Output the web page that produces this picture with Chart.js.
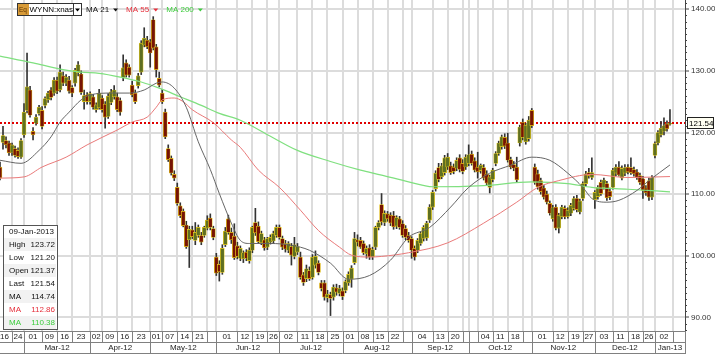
<!DOCTYPE html>
<html>
<head>
<meta charset="utf-8">
<script src="https://cdn.jsdelivr.net/npm/chart.js@4.4.0/dist/chart.umd.min.js"></script>
<style>
  html, body { margin: 0; padding: 0; background: #fff; }
</style>
</head>
<body>
<canvas id="chart" width="715" height="354"></canvas>
<script>
// WYNN:xnas daily candles, 16-Feb-2012 .. 09-Jan-2013
const firstDay = '2012-02-16';
const lastAxisDay = '2013-01-16';
const holidays = ['2012-02-20', '2012-04-06', '2012-05-28', '2012-07-04', '2012-09-03',
  '2012-10-29', '2012-10-30', '2012-11-22', '2012-12-25', '2013-01-01'];

const opens = [
  113.5, 114.4, 118.4, 118.7, 118.3, 116.8, 117.4, 117.1, 116.0, 119.6,
  123.6, 126.9, 120.2, 121.5, 123.1, 123.6, 124.4, 125.3, 126.9, 126.4,
  128.5, 126.9, 129.2, 128.0, 128.5, 127.3, 128.0, 129.7, 129.5, 125.0,
  126.1, 125.0, 125.8, 123.7, 124.0, 125.6, 124.6, 122.6, 124.9, 125.8,
  125.8, 125.2, 128.9, 131.3, 130.6, 127.7, 126.4, 127.6, 129.8, 134.2,
  135.0, 134.7, 138.3, 133.9, 128.8, 126.4, 123.3, 117.4, 115.8, 113.2,
  111.1, 108.1, 107.2, 105.0, 102.6, 104.2, 102.5, 103.3, 103.3, 103.3,
  104.5, 106.1, 104.4, 99.8, 98.6, 97.3, 101.8, 106.0, 103.8, 103.2,
  101.6, 99.6, 99.5, 100.6, 99.2, 100.9, 105.4, 104.8, 102.1, 102.6,
  101.4, 102.2, 102.4, 103.3, 104.6, 102.8, 102.0, 100.9, 101.5, 99.9,
  100.6, 99.8, 96.9, 96.3, 97.6, 96.5, 98.5, 98.8, 95.6, 95.6,
  93.2, 93.7, 93.3, 94.8, 93.9, 94.3, 94.4, 95.6, 96.2, 98.9,
  102.6, 102.5, 102.0, 100.3, 101.3, 99.8, 101.4, 104.6, 108.3, 105.4,
  106.8, 106.6, 106.5, 104.8, 106.0, 105.2, 104.4, 103.3, 102.8, 101.2,
  100.9, 102.0, 102.8, 102.9, 105.8, 107.9, 110.9, 114.3, 112.8, 113.5,
  114.4, 114.6, 114.4, 114.2, 115.9, 115.0, 114.4, 115.0, 116.5, 115.4,
  114.4, 113.8, 114.3, 113.3, 111.1, 112.4, 115.0, 116.6, 117.7, 119.2,
  118.3, 115.6, 114.8, 114.4, 118.3, 121.7, 118.5, 119.0, 123.6, 114.4,
  113.3, 112.2, 111.0, 110.0, 108.5, 106.0, 107.9, 104.5, 106.3, 107.7,
  106.4, 106.9, 107.7, 109.3, 107.1, 109.3, 111.7, 113.5, 112.7, 109.1,
  109.6, 111.9, 111.1, 111.7, 110.5, 111.1, 113.4, 114.4, 112.6, 113.4,
  114.4, 114.3, 114.0, 113.6, 113.0, 112.5, 111.0, 112.2, 109.5, 116.3,
  118.3, 119.6, 120.2, 121.4, 121.37
];
const highs = [
  115.2, 115.2, 121.0, 119.3, 118.6, 118.3, 117.8, 117.5, 119.0, 124.7,
  132.9, 127.5, 120.8, 122.9, 124.4, 124.2, 125.8, 126.7, 127.3, 128.9,
  129.0, 131.0, 129.8, 129.4, 129.1, 127.6, 130.4, 131.5, 130.0, 126.9,
  126.5, 126.6, 126.2, 124.8, 127.0, 126.0, 125.0, 126.3, 127.0, 127.6,
  126.4, 125.6, 132.6, 131.8, 131.0, 128.3, 126.9, 129.6, 134.9, 137.0,
  135.6, 135.1, 138.8, 134.3, 129.8, 127.0, 123.8, 118.0, 116.2, 113.8,
  111.8, 108.6, 107.6, 105.6, 104.8, 104.8, 105.4, 105.0, 103.8, 104.8,
  106.5, 106.8, 104.8, 100.4, 99.2, 101.8, 104.6, 106.6, 104.5, 105.2,
  102.2, 101.6, 100.8, 101.0, 101.3, 104.8, 107.7, 105.5, 104.0, 103.0,
  103.0, 103.4, 104.0, 105.0, 105.0, 103.2, 102.5, 102.3, 102.0, 103.0,
  102.0, 100.6, 97.3, 98.5, 98.2, 100.2, 100.8, 99.2, 96.0, 96.0,
  94.4, 94.1, 95.3, 95.4, 95.2, 94.8, 96.1, 97.4, 98.4, 103.8,
  103.4, 103.0, 102.4, 101.6, 101.8, 101.4, 104.8, 105.7, 110.1, 107.3,
  107.2, 107.0, 107.2, 106.5, 106.4, 105.7, 104.9, 103.8, 103.1, 101.6,
  102.8, 103.8, 104.9, 105.6, 108.3, 110.6, 113.8, 115.0, 115.0, 116.3,
  116.6, 115.2, 114.9, 115.9, 116.4, 115.6, 116.4, 118.0, 117.0, 115.9,
  116.8, 114.9, 114.8, 113.8, 113.1, 114.2, 116.9, 118.6, 119.6, 119.8,
  119.9, 116.0, 115.3, 116.0, 121.2, 122.2, 121.5, 122.6, 123.9, 114.9,
  113.9, 112.6, 111.4, 110.5, 108.9, 108.2, 108.3, 106.9, 108.2, 108.1,
  107.8, 108.5, 109.6, 109.8, 109.2, 112.0, 113.7, 114.2, 115.9, 110.6,
  111.4, 112.3, 112.6, 112.1, 111.0, 114.2, 114.8, 115.3, 114.6, 114.8,
  114.8, 115.9, 114.4, 114.0, 113.4, 112.9, 111.4, 112.6, 113.0, 118.5,
  120.3, 121.8, 122.4, 121.9, 123.72
];
const lows = [
  113.0, 112.3, 117.3, 117.5, 116.3, 116.3, 116.0, 115.8, 115.8, 119.2,
  123.2, 122.5, 118.8, 121.2, 122.8, 120.6, 124.0, 124.9, 125.3, 126.0,
  126.3, 126.6, 127.6, 127.6, 126.4, 125.8, 127.5, 129.2, 126.2, 123.8,
  124.6, 124.6, 123.8, 123.3, 123.8, 123.3, 120.7, 122.3, 124.5, 125.4,
  123.4, 122.8, 128.4, 129.0, 129.0, 125.8, 124.7, 127.2, 129.4, 133.9,
  133.6, 130.6, 133.4, 129.0, 127.4, 124.7, 119.0, 115.3, 113.1, 112.2,
  108.2, 106.2, 104.7, 101.2, 98.1, 102.8, 101.8, 103.0, 101.8, 103.0,
  104.2, 104.2, 102.6, 96.8, 95.9, 97.0, 101.5, 103.5, 102.0, 99.4,
  99.5, 99.2, 98.9, 99.2, 98.8, 100.5, 103.3, 102.0, 101.8, 100.9,
  101.0, 101.9, 102.0, 103.0, 102.7, 101.0, 100.6, 100.5, 98.5, 99.5,
  100.2, 96.2, 95.2, 95.8, 96.0, 96.2, 98.0, 96.9, 94.3, 92.8,
  92.5, 90.3, 92.8, 93.6, 93.5, 92.9, 94.0, 95.2, 94.9, 98.6,
  101.6, 101.2, 100.2, 99.6, 99.4, 99.4, 101.0, 104.2, 105.0, 104.9,
  105.6, 104.9, 104.3, 104.4, 104.3, 103.0, 102.6, 102.2, 99.6, 99.3,
  100.5, 101.7, 102.4, 102.5, 105.4, 107.5, 110.5, 112.0, 112.5, 113.1,
  114.0, 113.2, 113.3, 113.8, 113.6, 113.3, 114.0, 114.6, 114.7, 113.6,
  112.6, 113.4, 112.3, 111.5, 110.2, 112.0, 114.6, 116.3, 117.3, 117.4,
  115.2, 114.1, 113.8, 112.0, 117.8, 118.8, 118.1, 118.6, 120.8, 111.6,
  110.8, 110.0, 109.2, 108.4, 106.6, 105.6, 104.2, 103.7, 106.0, 106.0,
  106.1, 106.5, 107.4, 107.1, 106.8, 109.0, 111.3, 112.6, 112.4, 107.7,
  109.2, 109.8, 110.8, 109.0, 109.1, 110.8, 113.0, 112.9, 112.3, 113.0,
  113.3, 113.2, 112.9, 112.4, 111.6, 109.3, 109.8, 109.0, 109.1, 115.9,
  118.0, 119.3, 119.6, 120.2, 121.20
];
const closes = [
  114.6, 112.6, 119.5, 118.0, 116.7, 118.0, 116.3, 116.1, 118.7, 123.3,
  127.4, 122.8, 119.6, 122.5, 124.1, 121.0, 125.5, 126.4, 125.7, 128.5,
  126.7, 129.8, 128.0, 129.0, 126.7, 126.4, 130.1, 131.0, 126.5, 126.0,
  125.0, 126.3, 124.1, 124.5, 126.4, 123.7, 122.5, 125.9, 126.6, 126.9,
  123.7, 123.3, 130.5, 129.3, 129.3, 126.1, 125.0, 129.2, 134.5, 135.3,
  133.9, 132.9, 133.7, 130.2, 127.7, 125.0, 119.3, 115.6, 113.4, 112.6,
  108.5, 106.5, 104.9, 101.5, 104.3, 103.1, 103.8, 104.6, 102.2, 104.6,
  105.8, 104.6, 103.0, 97.2, 97.4, 101.2, 104.0, 103.8, 102.6, 99.7,
  99.9, 101.2, 100.5, 99.6, 100.9, 104.6, 103.7, 102.3, 103.6, 101.3,
  102.8, 103.0, 103.6, 104.6, 103.0, 101.4, 101.1, 102.0, 100.1, 101.8,
  101.5, 96.5, 95.7, 97.9, 96.3, 99.8, 99.9, 97.3, 94.7, 93.3,
  93.8, 93.1, 94.9, 94.1, 94.7, 93.4, 95.8, 97.0, 98.0, 102.8,
  102.2, 101.4, 100.5, 101.2, 99.8, 101.0, 104.6, 105.4, 105.5, 106.9,
  106.0, 105.3, 104.7, 106.2, 104.6, 103.3, 103.0, 102.5, 100.9, 99.8,
  102.5, 103.6, 104.6, 105.3, 107.9, 110.3, 113.4, 112.4, 114.6, 115.9,
  116.0, 113.5, 113.7, 115.5, 114.0, 113.7, 116.0, 116.4, 115.0, 113.9,
  113.6, 114.7, 112.6, 111.8, 112.8, 113.9, 116.6, 118.3, 119.3, 117.8,
  115.5, 114.4, 114.2, 112.3, 120.9, 119.2, 121.2, 122.0, 121.1, 111.9,
  111.2, 110.4, 109.5, 108.7, 106.9, 107.8, 104.5, 106.6, 107.9, 106.3,
  107.4, 108.2, 109.3, 107.5, 108.9, 111.7, 113.3, 113.0, 113.5, 110.3,
  111.1, 110.1, 112.3, 109.4, 109.6, 113.9, 114.4, 113.1, 114.2, 114.3,
  113.6, 113.5, 113.3, 112.7, 111.9, 110.6, 110.2, 109.5, 112.7, 118.2,
  120.0, 120.7, 121.1, 120.6, 121.54
];

// moving averages as [trading day index, value]
const ma21 = [[1, 115.5], [8, 115.0], [14, 117.1], [18, 119.3], [21, 121.7], [24, 123.3], [28, 125.3],
  [31, 126.1], [38, 126.4], [44, 126.4], [49, 126.9], [53, 128.0], [55, 128.2], [59, 127.2], [63, 124.1],
  [67, 118.5], [71, 114.0], [74, 110.1], [78, 105.3], [81, 102.5], [84, 102.0], [91, 102.0], [98, 101.7],
  [104, 100.9], [111, 98.8], [117, 96.2], [124, 96.8], [131, 99.3], [137, 103.0], [144, 104.6],
  [151, 107.9], [157, 111.1], [164, 113.4], [171, 114.7], [178, 116.0], [184, 115.5], [190, 113.4],
  [195, 111.1], [198, 109.3], [203, 108.7], [207, 109.0], [213, 110.6], [217, 112.2], [224, 114.74]];
const ma55 = [[1, 112.6], [9, 112.8], [15, 114.4], [23, 116.0], [30, 118.0], [40, 120.4], [45, 121.7],
  [50, 122.5], [53, 124.1], [55, 125.3], [59, 125.6], [62, 125.0], [65, 123.7], [72, 121.6], [78, 118.8],
  [81, 117.6], [87, 113.9], [94, 111.1], [101, 107.4], [107, 104.1], [114, 101.4], [118, 100.1],
  [124, 99.8], [128, 99.9], [137, 100.5], [150, 102.1], [162, 105.3], [173, 108.7], [180, 111.1],
  [187, 112.2], [198, 113.2], [210, 112.7], [224, 112.86]];
const ma200 = [[1, 132.4], [12, 131.3], [21, 130.3], [28, 129.8], [34, 129.6], [41, 129.0], [48, 128.2],
  [54, 127.2], [61, 125.8], [68, 124.4], [74, 123.1], [81, 122.0], [91, 119.4], [100, 117.1],
  [111, 115.3], [121, 113.9], [128, 113.1], [137, 112.0], [145, 111.2], [162, 111.4], [178, 112.0],
  [190, 111.7], [198, 111.1], [210, 110.8], [224, 110.38]];

const lastPrice = 121.54;
const yTicks = [90, 100, 110, 120, 130, 140];

const gridDates = ['2012-02-16', '2012-02-24', '2012-03-01', '2012-03-09', '2012-03-16', '2012-03-23',
  '2012-04-02', '2012-04-09', '2012-04-16', '2012-04-23', '2012-05-01', '2012-05-07', '2012-05-14',
  '2012-05-21', '2012-05-29', '2012-06-01', '2012-06-12', '2012-06-19', '2012-06-26', '2012-07-02',
  '2012-07-11', '2012-07-18', '2012-07-25', '2012-08-01', '2012-08-08', '2012-08-15', '2012-08-22',
  '2012-08-29', '2012-09-04', '2012-09-13', '2012-09-20', '2012-09-27', '2012-10-01', '2012-10-04',
  '2012-10-11', '2012-10-18', '2012-10-25', '2012-11-01', '2012-11-12', '2012-11-19', '2012-11-27',
  '2012-12-03', '2012-12-11', '2012-12-18', '2012-12-26', '2013-01-02', '2013-01-10'];
const gridLabels = ['16', '24', '01', '09', '16', '23', '02', '09', '16', '23', '01', '07', '14', '21', '',
  '01', '12', '19', '26', '02', '11', '18', '25', '01', '08', '15', '22', '', '04', '13', '20', '', '',
  '04', '11', '18', '', '01', '12', '19', '27', '03', '11', '18', '26', '02', ''];
const monthStarts = ['2012-03-01', '2012-04-02', '2012-05-01', '2012-06-01', '2012-07-02', '2012-08-01',
  '2012-09-04', '2012-10-01', '2012-11-01', '2012-12-03', '2013-01-02'];
const monthLabels = ['Mar-12', 'Apr-12', 'May-12', 'Jun-12', 'Jul-12', 'Aug-12', 'Sep-12', 'Oct-12',
  'Nov-12', 'Dec-12', 'Jan-13'];

const FONT = 'Arial, "Liberation Sans", sans-serif';
const BULL = '#5f6f22', BEAR = '#761404', EDGE = '#ecce1e';
const RED = '#e6303c', GREEN = '#3dcc3d';

function tradingDays(from, to, skip) {
  const out = [];
  const d = new Date(from + 'T00:00:00Z');
  const end = new Date(to + 'T00:00:00Z');
  while (d <= end) {
    const iso = d.toISOString().slice(0, 10);
    const wd = d.getUTCDay();
    if (wd !== 0 && wd !== 6 && !skip.includes(iso)) out.push(iso);
    d.setUTCDate(d.getUTCDate() + 1);
  }
  return out;
}
const days = tradingDays(firstDay, lastAxisDay, holidays);
const dayIdx = iso => days.indexOf(iso);
const MON = ['Jan', 'Feb', 'Mar', 'Apr', 'May', 'Jun', 'Jul', 'Aug', 'Sep', 'Oct', 'Nov', 'Dec'];
const fmtDate = iso => { const p = iso.split('-'); return p[2] + '-' + MON[+p[1] - 1] + '-' + p[0]; };

const wicks = opens.map((o, i) => ({ x: i, y: [lows[i], highs[i]] }));
const bodies = opens.map((o, i) => ({ x: i, y: [o, closes[i]] }));
const isUp = i => closes[i] >= opens[i];
const pts = arr => arr.map(([x, y]) => ({ x, y }));

function tri(ctx, x, y, color) {
  ctx.fillStyle = color;
  ctx.beginPath();
  ctx.moveTo(x, y); ctx.lineTo(x + 5, y); ctx.lineTo(x + 2.5, y + 3);
  ctx.closePath();
  ctx.fill();
}

const background = {
  id: 'background',
  beforeDraw(c) {
    const ctx = c.ctx;
    ctx.save();
    ctx.fillStyle = '#fff';
    ctx.fillRect(0, 0, c.width, c.height);
    ctx.restore();
  }
};

const lastLine = {
  id: 'lastLine',
  beforeDatasetsDraw(c) {
    const { ctx, chartArea: a, scales: { y } } = c;
    const py = Math.round(y.getPixelForValue(lastPrice));
    ctx.save();
    ctx.strokeStyle = '#e00000';
    ctx.lineWidth = 2;
    ctx.setLineDash([2, 2]);
    ctx.beginPath(); ctx.moveTo(a.left, py); ctx.lineTo(a.right, py); ctx.stroke();
    ctx.restore();
  }
};

const overlay = {
  id: 'overlay',
  afterDraw(c) {
    const { ctx, chartArea: a, scales: { x, y } } = c;
    ctx.save();

    // date band under the plot
    const top = a.bottom, mid = a.bottom + 11, bot = c.height;
    ctx.fillStyle = '#fff';
    ctx.fillRect(0, top, a.right, bot - top);
    ctx.strokeStyle = '#808080';
    ctx.lineWidth = 1;
    ctx.beginPath();
    ctx.moveTo(0, top + 0.5); ctx.lineTo(a.right, top + 0.5);
    ctx.moveTo(0, mid + 0.5); ctx.lineTo(a.right, mid + 0.5);
    ctx.moveTo(0, bot - 0.5); ctx.lineTo(a.right, bot - 0.5);
    ctx.moveTo(a.right + 0.5, top); ctx.lineTo(a.right + 0.5, bot);
    ctx.stroke();

    ctx.font = '8px ' + FONT;
    ctx.fillStyle = '#222';
    ctx.textAlign = 'center';
    ctx.textBaseline = 'middle';
    const g = gridDates.map(dayIdx);
    g.forEach((v, k) => {
      const x0 = x.getPixelForValue(v);
      const x1 = k + 1 < g.length ? x.getPixelForValue(g[k + 1]) : a.right;
      if (x0 > a.left && x0 < a.right) {
        ctx.beginPath();
        ctx.moveTo(Math.round(x0) + 0.5, top); ctx.lineTo(Math.round(x0) + 0.5, mid);
        ctx.stroke();
      }
      if (gridLabels[k]) ctx.fillText(gridLabels[k], (x0 + Math.min(x1, a.right)) / 2, top + 6);
    });
    const m = monthStarts.map(dayIdx);
    m.forEach((v, k) => {
      const x0 = x.getPixelForValue(v);
      const x1 = k + 1 < m.length ? x.getPixelForValue(m[k + 1]) : a.right;
      ctx.beginPath();
      ctx.moveTo(Math.round(x0) + 0.5, mid); ctx.lineTo(Math.round(x0) + 0.5, bot);
      ctx.stroke();
      ctx.fillText(monthLabels[k], (x0 + x1) / 2, mid + 6);
    });

    // minor ticks on the price axis
    ctx.strokeStyle = '#444';
    ctx.beginPath();
    for (let v = Math.ceil(y.min); v <= y.max; v++) {
      if (v % 10 === 0) continue;
      const py = Math.round(y.getPixelForValue(v)) + 0.5;
      ctx.moveTo(a.right, py); ctx.lineTo(a.right + 2, py);
    }
    ctx.stroke();

    // last price tag
    const py = Math.round(y.getPixelForValue(lastPrice));
    ctx.fillStyle = '#fffff2';
    ctx.fillRect(a.right + 2, py - 5, 27, 11);
    ctx.strokeStyle = '#222';
    ctx.strokeRect(a.right + 2.5, py - 5.5, 26, 11);
    ctx.fillStyle = '#000';
    ctx.textAlign = 'left';
    ctx.font = '8px ' + FONT;
    ctx.fillText(lastPrice.toFixed(2), a.right + 4, py + 0.5);

    // legend
    ctx.fillStyle = '#fff';
    ctx.fillRect(17, 3, 64, 13);
    ctx.strokeStyle = '#333';
    ctx.strokeRect(17.5, 3.5, 64, 12);
    ctx.beginPath(); ctx.moveTo(73.5, 4); ctx.lineTo(73.5, 15); ctx.stroke();
    ctx.fillStyle = '#d89b38';
    ctx.fillRect(18, 4, 11, 11);
    ctx.fillStyle = '#5c3300';
    ctx.font = '6.5px ' + FONT;
    ctx.fillText('Eq', 19, 10);
    ctx.font = '8px ' + FONT;
    ctx.fillStyle = '#000';
    ctx.fillText('WYNN:xnas', 29.5, 10);
    tri(ctx, 75, 8.5, '#000');
    let lx = 86;
    [['MA 21', '#111'], ['MA 55', RED], ['MA 200', GREEN]].forEach(([t, col]) => {
      ctx.fillStyle = col;
      ctx.fillText(t, lx, 10);
      const w = ctx.measureText(t).width;
      tri(ctx, lx + w + 4, 8.5, col);
      lx += w + 4 + 5 + 8;
    });

    // info box for the last bar
    const n = opens.length - 1;
    const rows = [
      [fmtDate(days[n]), '', '#111'],
      ['High', highs[n].toFixed(2), '#111'],
      ['Low', lows[n].toFixed(2), '#111'],
      ['Open', opens[n].toFixed(2), '#111'],
      ['Last', closes[n].toFixed(2), '#111'],
      ['MA', ma21[ma21.length - 1][1].toFixed(2), '#111'],
      ['MA', ma55[ma55.length - 1][1].toFixed(2), RED],
      ['MA', ma200[ma200.length - 1][1].toFixed(2), GREEN]
    ];
    const bx = 3, by = 225, bw = 54, rh = 13;
    ctx.fillStyle = '#fff';
    ctx.fillRect(bx, by, bw, rh * rows.length);
    rows.forEach((r, k) => {
      if (k % 2 === 1) {
        ctx.fillStyle = '#f2f2f2';
        ctx.fillRect(bx + 1, by + k * rh, bw - 2, rh);
      }
      ctx.fillStyle = r[2];
      ctx.textAlign = 'left';
      ctx.fillText(r[0], bx + 6, by + k * rh + 7);
      if (r[1]) {
        ctx.textAlign = 'right';
        ctx.fillText(r[1], bx + bw - 2, by + k * rh + 7);
      }
    });
    ctx.strokeStyle = '#555';
    ctx.strokeRect(bx + 0.5, by + 0.5, bw, rh * rows.length);

    ctx.restore();
  }
};

new Chart(document.getElementById('chart'), {
  type: 'bar',
  data: {
    datasets: [
      { type: 'line', label: 'MA 21', data: pts(ma21), borderColor: '#666', borderWidth: 1,
        pointRadius: 0, cubicInterpolationMode: 'monotone', order: 1 },
      { type: 'line', label: 'MA 55', data: pts(ma55), borderColor: '#ea7a7a', borderWidth: 1,
        pointRadius: 0, cubicInterpolationMode: 'monotone', order: 1 },
      { type: 'line', label: 'MA 200', data: pts(ma200), borderColor: '#7fe07f', borderWidth: 1.2,
        pointRadius: 0, cubicInterpolationMode: 'monotone', order: 1 },
      { label: 'body', data: bodies, barThickness: 4, grouped: false, minBarLength: 1,
        backgroundColor: ctx => isUp(ctx.dataIndex) ? BULL : BEAR,
        borderColor: EDGE, borderWidth: 0.7, borderSkipped: false, order: 2 },
      { label: 'wick', data: wicks, barThickness: 1, grouped: false,
        backgroundColor: '#333', borderWidth: 0, order: 3 }
    ]
  },
  options: {
    responsive: false,
    animation: false,
    devicePixelRatio: 1,
    layout: { padding: 0 },
    plugins: { legend: { display: false }, tooltip: { enabled: false } },
    scales: {
      x: {
        type: 'linear', min: 1, max: 229, offset: false,
        afterBuildTicks: s => {
          s.ticks = gridDates.map(dayIdx).filter(v => v >= s.min && v <= s.max).map(v => ({ value: v }));
        },
        ticks: { display: false },
        grid: { color: '#dcdcdc', lineWidth: 2, drawTicks: false, offset: false },
        border: { display: false },
        afterFit: s => { s.height = 23; s.paddingLeft = 0; s.paddingRight = 0; }
      },
      y: {
        position: 'right', min: 87.8, max: 141.5,
        afterBuildTicks: s => { s.ticks = yTicks.map(v => ({ value: v })); },
        ticks: { callback: v => v.toFixed(2), color: '#333', font: { size: 8, family: FONT }, padding: 2 },
        grid: { color: '#dcdcdc', lineWidth: 2, tickLength: 4, tickColor: '#444', tickWidth: 1 },
        border: { display: true, color: '#444', width: 1 },
        afterFit: s => { s.width = 30; s.paddingTop = 0; s.paddingBottom = 0; }
      }
    }
  },
  plugins: [background, lastLine, overlay]
});
</script>
</body>
</html>
